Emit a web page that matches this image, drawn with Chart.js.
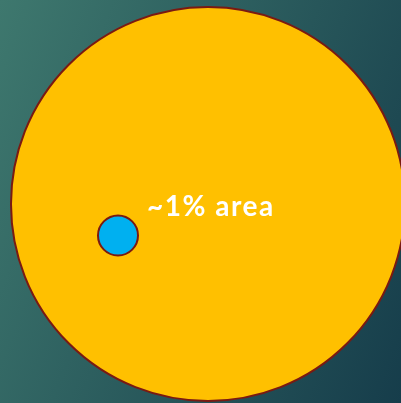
<!DOCTYPE html>
<html>
<head>
<meta charset="utf-8">
<script src="https://cdn.jsdelivr.net/npm/chart.js@4"></script>
<style>
  html, body { margin: 0; padding: 0; overflow: hidden; }
  #wrap { width: 401px; height: 403px; position: relative; }
</style>
</head>
<body>
<div id="wrap"><canvas id="graph"></canvas></div>
<script>
// two circles: whole area vs ~1% area
const names = ["whole", "part"];
const xs = [208, 118];
const ys = [204, 235.5];
const radii = [197, 20];
const fills = ["#FFC000", "#00B0F0"];
const label = "~1% area";

const graph = document.getElementById('graph');

// bubble controller shrinks the chart area by the biggest radius, turn that off
Chart.registry.getController('bubble').prototype.getMaxOverflow = function () { return 0; };

const bg = {
    id: 'bg',
    beforeDraw(chart) {
        const ctx = chart.ctx;
        const g = ctx.createLinearGradient(0, 0, 484, 188);
        g.addColorStop(0, "#3e786e");
        g.addColorStop(1, "#163d4b");
        ctx.save();
        ctx.fillStyle = g;
        ctx.fillRect(0, 0, chart.width, chart.height);
        ctx.restore();
    }
};

const text = {
    id: 'text',
    afterDatasetsDraw(chart) {
        const ctx = chart.ctx;
        const p = chart.getDatasetMeta(0).data[1];
        ctx.save();
        ctx.fillStyle = "white";
        ctx.font = "bold 28px Lato";
        ctx.letterSpacing = "1.5px";
        ctx.textBaseline = "alphabetic";
        ctx.fillText(label, p.x + 29, p.y - 19.5);
        ctx.restore();
    }
};

new Chart(graph, {
    type: "bubble",
    data: {
        labels: names,
        datasets: [{
            data: xs.map((x, i) => ({ x: x, y: ys[i], r: radii[i] })),
            backgroundColor: fills,
            borderColor: "#7a1a12",
            borderWidth: 2,
            clip: false
        }],
    },
    options: {
        responsive: true,
        maintainAspectRatio: false,
        animation: false,
        layout: { padding: 0 },
        plugins: { legend: { display: false }, tooltip: { enabled: false } },
        scales: {
            x: { display: false, min: 0, max: 401 },
            y: { display: false, min: 0, max: 403, reverse: true }
        }
    },
    plugins: [bg, text]
});
</script>
</body>
</html>
